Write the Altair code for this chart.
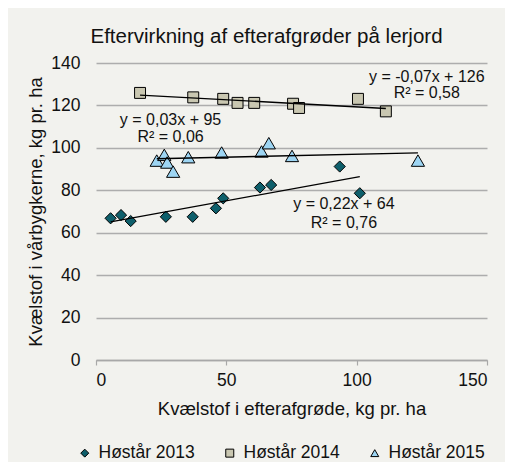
import altair as alt
import pandas as pd

# Data
x_2013 = [5.6, 9.6, 13.3, 26.8, 37.1, 46.0, 48.8, 62.9, 67.2, 93.5, 101.2]
y_2013 = [66.8, 68.3, 65.5, 67.5, 67.5, 71.5, 76.2, 81.3, 82.5, 91.2, 78.6]
x_2014 = [16.9, 37.3, 48.8, 54.3, 60.7, 75.6, 77.9, 100.5, 111.2]
y_2014 = [125.9, 123.8, 123.1, 121.2, 121.2, 120.8, 118.8, 123.1, 117.2]
x_2015 = [23.3, 26.2, 27.3, 29.6, 35.4, 48.2, 63.5, 66.3, 75.2, 123.5]
y_2015 = [94.0, 96.7, 93.1, 88.8, 95.6, 97.8, 98.3, 102.2, 96.2, 94.0]

series_names = ["Høstår 2013", "Høstår 2014", "Høstår 2015"]
series_colors = ["#0e5f6b", "#c9c7b1", "#9dd5f3"]
series_shapes = ["diamond", "square", "triangle-up"]
series_sizes = [125, 120, 175]

eq_text = ["y = 0,22x + 64", "R² = 0,76",
           "y = -0,07x + 126", "R² = 0,58",
           "y = 0,03x + 95", "R² = 0,06"]
eq_x = [95.1, 95.1, 126.9, 126.9, 28.6, 28.6]
eq_y = [73.4, 64.5, 133.6, 125.8, 113.2, 104.9]

rows = []
for name, sz, xs_, ys_ in zip(series_names, series_sizes, [x_2013, x_2014, x_2015], [y_2013, y_2014, y_2015]):
    for a, b in zip(xs_, ys_):
        rows.append({"x": a, "y": b, "series": name, "sz": sz})
df = pd.DataFrame(rows)
eq_df = pd.DataFrame({"t": eq_text, "x": eq_x, "y": eq_y})

FONT = "Liberation Sans"
TXT = "#111111"

xs = alt.Scale(domain=[0, 150], nice=False, zero=True)
ys = alt.Scale(domain=[0, 140], nice=False, zero=True)

x_enc = alt.X("x:Q", scale=xs, axis=alt.Axis(
    values=[0, 50, 100, 150], title="Kvælstof i efterafgrøde, kg pr. ha",
    grid=False, domain=True, domainColor="#a8a8a8", domainWidth=1.5,
    ticks=True, tickColor="#a8a8a8", tickSize=5, tickWidth=1.2,
    labelFontSize=17.5, labelFont=FONT, labelColor=TXT, labelPadding=6,
    titleFontSize=18.5, titleFont=FONT, titleFontWeight="normal", titleColor=TXT,
    titleX=195.5, titleY=48, titleBaseline="middle", titleAlign="center"))
y_enc = alt.Y("y:Q", scale=ys, axis=alt.Axis(
    values=[0, 20, 40, 60, 80, 100, 120, 140], title="Kvælstof i vårbygkerne, kg pr. ha",
    grid=True, gridColor="#adadad", gridWidth=1.6, domain=False, ticks=False,
    labelFontSize=17.5, labelFont=FONT, labelColor=TXT, labelPadding=16,
    titleFontSize=18.5, titleFont=FONT, titleFontWeight="normal", titleColor=TXT,
    titleX=-61, titleY=148.5, titleBaseline="middle", titleAlign="center", titleAngle=-90))

points = alt.Chart(df).mark_point(filled=True, stroke="black", strokeWidth=1, opacity=1).encode(
    x=x_enc, y=y_enc,
    color=alt.Color("series:N", scale=alt.Scale(domain=series_names, range=series_colors),
                    legend=alt.Legend(title=None, orient="none", direction="horizontal",
                                      legendX=-20, legendY=381, labelFontSize=17.5, labelFont=FONT,
                                      labelColor=TXT, symbolSize=64, symbolStrokeColor="black",
                                      symbolStrokeWidth=1, labelOffset=5, columnPadding=26,
                                      symbolOpacity=1)),
    shape=alt.Shape("series:N", scale=alt.Scale(domain=series_names, range=series_shapes)),
    size=alt.Size("sz:Q", scale=None, legend=None),
)

trend = alt.Chart(df).transform_regression("x", "y", groupby=["series"]).mark_line(
    color="black", strokeWidth=1.3).encode(
    x=alt.X("x:Q", scale=xs), y=alt.Y("y:Q", scale=ys), detail="series:N")

labels = alt.Chart(eq_df).mark_text(font=FONT, fontSize=16, color=TXT,
                                    align="center", baseline="middle").encode(
    x=alt.X("x:Q", scale=xs), y=alt.Y("y:Q", scale=ys), text="t:N")

chart = alt.layer(points, trend, labels).properties(
    width=391, height=297,
    title=alt.TitleParams("Eftervirkning af efterafgrøder på lerjord", font=FONT, fontSize=20.5,
                          fontWeight="normal", color=TXT, anchor="middle", dx=-25, offset=7),
    background="#f2f2ee",
    padding={"left": 88, "top": 55, "right": 18, "bottom": 102},
    autosize=alt.AutoSizeParams(type="none"),
).configure_view(stroke=None)

chart.save("out.html", embed_options={"renderer": "svg", "actions": False})
